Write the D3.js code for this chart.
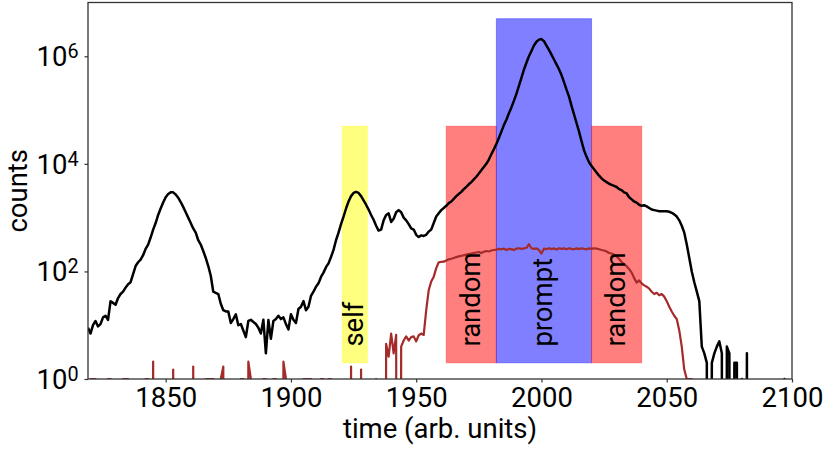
<!DOCTYPE html>
<html>
<head>
<meta charset="utf-8">
<script src="https://cdn.jsdelivr.net/npm/d3@7"></script>
<style>
  html, body { margin: 0; padding: 0; background: #fff; }
  svg { display: block; }
</style>
</head>
<body>
<svg id="chart" width="826" height="452"></svg>
<script>
// ---- data -------------------------------------------------------------
// time bins run from firstBin in steps of one unit
const firstBin = 1819;

// all coincidences per bin (black)
const totalCounts = [
  // 1819
  9,
  // 1820s
  7, 10, 12, 9.5, 10.5, 14, 15, 12.6, 28, 26,
  // 1830s
  24, 32, 38, 42, 50, 58, 63, 89, 126, 148,
  // 1840s
  166, 200, 263, 316, 427, 600, 794, 1122, 1479, 1905,
  // 1850s
  2400, 2750, 2950, 2950, 2700, 2350, 1950, 1585, 1260, 1000,
  // 1860s
  794, 630, 525, 380, 316, 240, 178, 126, 83, 42,
  // 1870s
  40, 38, 25, 19, 18, 18, 11, 13, 16, 10,
  // 1880s
  10.5, 8, 6, 12, 12.6, 11.5, 10.5, 9, 7, 12.6,
  // 1890s
  3, 12.5, 5.6, 12, 13, 15, 13, 14, 10.5, 8.3,
  // 1900s
  16, 12.6, 11, 20, 22, 28, 19, 22, 35, 42,
  // 1910s
  52, 60, 79, 95, 120, 141, 186, 251, 380, 525,
  // 1920s
  759, 1047, 1479, 1995, 2512, 2884, 3020, 2884, 2512, 2089,
  // 1930s
  1738, 1413, 1122, 912, 708, 575, 600, 891, 1122, 1200,
  // 1940s
  832, 955, 1259, 1380, 1259, 1000, 891, 759, 631, 600,
  // 1950s
  479, 437, 468, 457, 479, 550, 600, 794, 1047, 1202,
  // 1960s
  1380, 1514, 1660, 1862, 1995, 2239, 2512, 2754, 3020, 3388,
  // 1970s
  3715, 4169, 4571, 5129, 5754, 6607, 7586, 8710, 10000, 12000,
  // 1980s
  15136, 18621, 23442, 30200, 39800, 52500, 66000, 87000, 112000, 148000,
  // 1990s
  200000, 282000, 398000, 562000, 759000, 1000000, 1259000, 1585000, 1862000, 2042000,
  // 2000s
  2089000, 1905000, 1585000, 1318000, 1072000, 871000, 708000, 575000, 447000, 331000,
  // 2010s
  240000, 178000, 120000, 83000, 57500, 39800, 26300, 17800, 13500, 10700,
  // 2020s
  9120, 7943, 6918, 6026, 5370, 4898, 4571, 4266, 4074, 3890,
  // 2030s
  3715, 3388, 3236, 2951, 2818, 2399, 2188, 1995, 1905, 1738,
  // 2040s
  1660, 1700, 1622, 1514, 1413, 1380, 1349, 1318, 1318, 1318,
  // 2050s
  1318, 1288, 1230, 1148, 1047, 891, 708, 525, 316, 178,
  // 2060s
  100, 63, 42, 28, 4, 3, 2, 0, 2, 3,
  // 2070s
  4, 5, 3, 0, 4, 3, 0, 2, 2, 0,
  // 2080s
  1, 0, 3, 0, 0, 0, 0, 0, 0, 0,
  // 2090s
  0, 0, 0, 0, 0, 0, 0, 1, 0, 0,
  // 2100
  0
];

// random coincidences per bin (brown)
const randomCounts = [
  // 1819
  0,
  // 1820s
  1, 1, 1, 0, 0, 0, 0, 1, 1, 0,
  // 1830s
  0, 0, 0, 1, 1, 1, 0, 0, 0, 0,
  // 1840s
  0, 0, 1, 1, 0, 2.1, 0, 0, 0, 0,
  // 1850s
  0, 0, 0, 1.5, 0, 0, 0, 0, 0, 0,
  // 1860s
  0, 1.7, 0, 0, 0, 0, 1, 1, 1, 1,
  // 1870s
  0, 0, 1, 1.7, 0, 0, 0, 0, 0, 0,
  // 1880s
  1, 1, 0, 2.1, 1, 0, 0, 0, 0, 1,
  // 1890s
  1, 0, 0, 1, 1, 0, 0, 2.1, 1, 0,
  // 1900s
  0, 0, 0, 0, 0, 1, 1, 1, 1, 0,
  // 1910s
  0, 0, 1, 1, 0, 1, 1, 0, 0, 0,
  // 1920s
  0, 0, 0, 0, 1.7, 0, 0, 0, 1.5, 0,
  // 1930s
  0, 0, 0, 0, 1, 0, 0, 0, 4.5, 2.6,
  // 1940s
  7, 3, 6.6, 0, 4, 5.2, 6.2, 5.2, 6, 6.2,
  // 1950s
  5, 6.5, 7, 6.6, 19, 45, 65, 80, 115, 148,
  // 1960s
  150, 152, 160, 168, 172, 178, 185, 190, 195, 200,
  // 1970s
  205, 210, 215, 220, 225, 230, 220, 232, 240, 235,
  // 1980s
  245, 250, 255, 262, 258, 265, 250, 262, 260, 250,
  // 1990s
  265, 270, 262, 268, 275, 320, 270, 262, 268, 250,
  // 2000s
  215, 265, 258, 270, 260, 268, 255, 270, 262, 268,
  // 2010s
  258, 270, 262, 258, 268, 260, 270, 262, 258, 268,
  // 2020s
  262, 270, 265, 258, 250, 245, 235, 220, 215, 205,
  // 2030s
  190, 170, 150, 135, 125, 110, 95, 75, 62, 68,
  // 2040s
  60, 55, 52, 48, 42, 38, 40, 36, 38, 34,
  // 2050s
  28, 22, 18, 15, 13, 8, 4, 1.5, 1, 1,
  // 2060s
  1, 0, 0, 0, 0, 0, 0, 0, 0, 0,
  // 2070s
  0, 0, 0, 0, 0, 0, 0, 0, 0, 0,
  // 2080s
  0, 0, 0, 0, 0, 0, 0, 0, 0, 0,
  // 2090s
  0, 0, 0, 0, 0, 0, 0, 0, 0, 0,
  // 2100
  0
];

// gate windows
const windowNames  = ["self", "random", "prompt", "random"];
const windowStarts = [1920.5, 1962, 1982, 2020];
const windowEnds   = [1930.5, 1982, 2020, 2040];
const windowTops   = [5e4, 5e4, 5e6, 5e4];
const windowBottom = 2;
const windowColors = ["yellow", "red", "blue", "red"];
const windowLabelLevel = 4;

// axes
const xDomain = [1819, 2100];
const yDomain = [1, 1e7];
const xTicks = [1850, 1900, 1950, 2000, 2050, 2100];
const yTickExponents = [0, 2, 4, 6];
const xTitle = "time (arb. units)";
const yTitle = "counts";

// ---- layout -----------------------------------------------------------
const W = 826, H = 452;
const plot = { left: 88, right: 792, top: 2.5, bottom: 379 };
const FONT = "Roboto, 'DejaVu Sans', sans-serif";
const FS = 27.5;
const ZERO_FLOOR = 1e-30; // empty bins fall far below the axis

const svg = d3.select("#chart")
  .attr("font-family", FONT);

svg.append("rect").attr("width", W).attr("height", H).attr("fill", "#fff");

const x = d3.scaleLinear().domain(xDomain).range([plot.left, plot.right]);
const y = d3.scaleLog().domain(yDomain).range([plot.bottom, plot.top]);

svg.append("defs").append("clipPath").attr("id", "plot-clip")
  .append("rect")
  .attr("x", plot.left).attr("y", plot.top)
  .attr("width", plot.right - plot.left).attr("height", plot.bottom - plot.top);

const area = svg.append("g").attr("clip-path", "url(#plot-clip)");

// gate windows
const windows = windowNames.map((name, i) => ({
  name, start: windowStarts[i], end: windowEnds[i], top: windowTops[i], color: windowColors[i]
}));

area.selectAll("rect.window").data(windows).join("rect")
  .attr("class", "window")
  .attr("x", d => x(d.start))
  .attr("width", d => x(d.end) - x(d.start))
  .attr("y", d => y(d.top))
  .attr("height", d => y(windowBottom) - y(d.top))
  .attr("fill", d => d.color).attr("fill-opacity", 0.5)
  .attr("stroke", d => d.color).attr("stroke-opacity", 0.35).attr("stroke-width", 1);

// spectra
const bins = totalCounts.map((_, i) => firstBin + i);
const line = d3.line()
  .x(d => x(d[0]))
  .y(d => y(d[1] > 0 ? d[1] : ZERO_FLOOR));

area.append("path")
  .datum(bins.map((t, i) => [t, totalCounts[i]]))
  .attr("d", line)
  .attr("fill", "none").attr("stroke", "#000")
  .attr("stroke-width", 2.5).attr("stroke-linejoin", "round");

area.append("path")
  .datum(bins.map((t, i) => [t, randomCounts[i]]))
  .attr("d", line)
  .attr("fill", "none").attr("stroke", "brown")
  .attr("stroke-width", 2.2).attr("stroke-linejoin", "round");

// window names, written upward
svg.append("g").selectAll("text").data(windows).join("text")
  .attr("transform", d => `translate(${x((d.start + d.end) / 2)},${y(windowLabelLevel)}) rotate(-90)`)
  .attr("dy", "0.3em")
  .attr("font-size", FS)
  .attr("fill", "#000")
  .text(d => d.name);

// frame
svg.append("rect")
  .attr("x", plot.left).attr("y", plot.top)
  .attr("width", plot.right - plot.left).attr("height", plot.bottom - plot.top)
  .attr("fill", "none").attr("stroke", "#333").attr("stroke-width", 1.3);

// x axis
const gx = svg.append("g")
  .attr("transform", `translate(0,${plot.bottom})`)
  .call(d3.axisBottom(x).tickValues(xTicks).tickSize(3.5).tickFormat(d3.format("d")));
gx.select(".domain").remove();
gx.attr("font-family", FONT).attr("font-size", FS);
gx.selectAll(".tick line").attr("stroke", "#333").attr("stroke-width", 1.2);
gx.selectAll(".tick text").attr("y", 28).attr("dy", null).attr("fill", "#000");

// y axis (powers of ten)
const gy = svg.append("g")
  .attr("transform", `translate(${plot.left},0)`)
  .call(d3.axisLeft(y).tickValues(yTickExponents.map(e => Math.pow(10, e))).tickSize(3.5).tickFormat(() => ""));
gy.select(".domain").remove();
gy.attr("font-family", FONT).attr("font-size", FS);
gy.selectAll(".tick line").attr("stroke", "#333").attr("stroke-width", 1.2);
gy.selectAll(".tick text")
  .attr("x", -9.5).attr("dy", null).attr("y", 9.5)
  .attr("fill", "#000")
  .each(function (d) {
    const t = d3.select(this);
    t.text("10");
    t.append("tspan")
      .attr("font-size", FS * 0.72)
      .attr("dy", -8)
      .text(Math.round(Math.log10(d)));
  });

// axis titles
svg.append("text")
  .attr("x", (plot.left + plot.right) / 2).attr("y", 438)
  .attr("text-anchor", "middle").attr("font-size", FS).attr("fill", "#000")
  .text(xTitle);

svg.append("text")
  .attr("transform", `translate(26.5,${(plot.top + plot.bottom) / 2}) rotate(-90)`)
  .attr("text-anchor", "middle").attr("font-size", FS).attr("fill", "#000")
  .text(yTitle);
</script>
</body>
</html>
